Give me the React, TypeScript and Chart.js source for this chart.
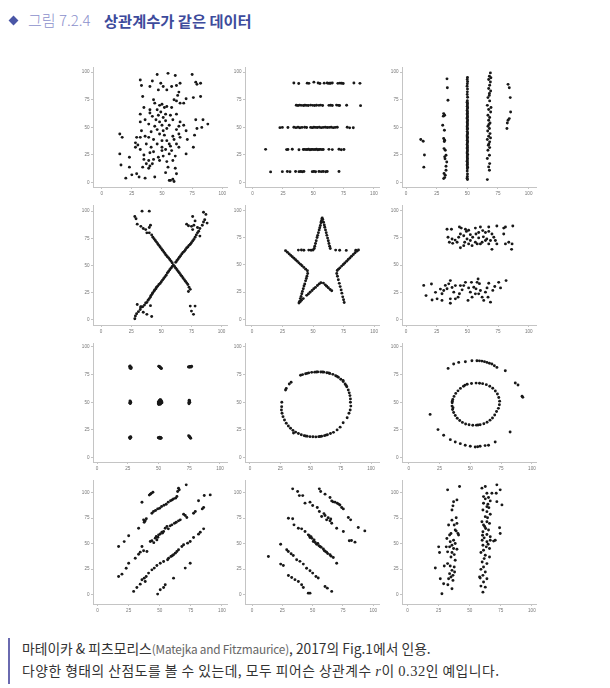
import React, { useEffect, useRef } from "react";
import { Chart, registerables } from "chart.js";
Chart.register(...registerables);

type P = [number, number];

const TICK_VALUES = [0, 25, 50, 75, 100];

const away: P[] = [
  [46,98],[55,99],[61,97],[75,98],[32,93],[42,92],[33,88],[40,87],[49,90],[51,87],[54,84],[58,87],[62,88],[65,90],[64,82],[63,79],[47,84],
  [78,91],[79,89],[82,90],[76,77],[82,78],[34,78],[60,75],[62,74],[70,76],[65,72],[68,72],[43,75],[44,72],[48,70],[50,71],[52,68],[35,68],
  [40,66],[54,69],[58,68],[46,66],[32,62],[40,63],[49,64],[53,62],[42,60],[47,61],[51,59],[57,61],[62,62],[36,57],[32,55],[45,57],[48,55],
  [53,56],[59,57],[65,55],[78,57],[84,57],[88,53],[68,52],[70,47],[64,51],[56,52],[50,52],[44,51],[39,53],[33,47],[41,46],[46,48],[51,47],
  [54,49],[62,48],[79,49],[83,50],[36,42],[39,41],[48,44],[52,43],[59,42],[64,44],[65,41],[77,43],[15,44],[17,41],[29,41],[32,41],[50,38],
  [54,38],[43,39],[60,39],[71,39],[28,36],[37,35],[46,35],[56,35],[62,35],[30,34],[41,32],[50,32],[57,33],[64,32],[76,32],[28,32],[32,30],
  [50,29],[53,30],[58,29],[43,28],[70,26],[15,26],[40,27],[56,26],[35,25],[23,23],[47,23],[51,24],[61,24],[35,21],[39,20],[43,21],[48,20],
  [54,19],[59,20],[16,16],[37,17],[40,15],[42,17],[55,14],[23,14],[34,14],[39,13],[61,13],[53,9],[62,8],[29,8],[25,7],[31,5],[44,5],[36,4],
  [20,4],[57,2],[59,3],[60,1],[56,2]
];

const hLines: P[] = [
  [34,90.2],[38,89.8],[45,90.1],[46.4,89.9],[50.5,91],[54,90.2],[55.5,89.8],[59,90.1],[61.5,90.3],[62.4,89.9],[63.5,90],[64.3,90],[65.7,90.2],
  [70.3,89.9],[72,90.1],[73.4,90],[74.7,89.8],[83.5,90.3],[88.5,89.9],
  [36,70.1],[37.4,69.9],[38.7,70.2],[40,70],[41.8,69.8],[43.1,70.1],[44.5,70],[45.9,69.9],[47.8,70.2],[49.5,70],[51.1,69.8],[52.7,70.1],
  [54.7,70],[56,70.2],[57.7,69.9],[62.9,70],[64.3,70.1],[65.7,69.8],[69.2,70.2],[70.6,70],[71.7,69.9],[77.5,70.1],[89,69.7],
  [22.5,49.8],[24.5,50],[29.1,49.9],[34,50.2],[35.7,49.8],[37.4,50.1],[39,49.7],[40.7,50],[42.9,50.2],[44.5,49.9],[47.8,50],[49.2,49.8],
  [50.5,50.1],[51.9,50],[53.3,49.9],[55,50.2],[56.6,49.8],[58.2,50],[59.9,50.1],[61.5,49.9],[63.2,50],[64.8,50.2],[66.5,49.8],[68.1,50],
  [69.8,50.1],[78,50.2],[80,49.6],[83,49.7],
  [10.7,30.1],[28,29.9],[29.1,30],[32.7,30.2],[38.2,29.8],[41.8,30],[42.9,30.1],[44,29.9],[45,30],[46.1,30.2],[47.3,29.8],[48.4,30],
  [49.5,30.1],[50.5,29.9],[51.6,30],[52.7,30.2],[53.8,29.8],[54.9,30],[56,30.1],[57.1,29.9],[58.2,30],[62.9,30.1],[65.7,29.9],[71.2,30.2],
  [73.1,29.8],[75.3,30],
  [14.8,9.7],[24.5,9.9],[28.6,10],[30.8,9.8],[35.4,10.1],[38.2,9.9],[39.6,10],[40.9,9.8],[42.3,10.1],[49.2,9.9],[50.5,10],[51.9,9.8],
  [54.7,10.1],[56.6,9.9],[58.2,10],[60.2,9.8],[61.5,10.1],[71.2,10]
];

const vLines: P[] = [
  [12,39],[14,37.5],[15,25],[14.5,14],
  [33.4,94],[33.7,86],[34.2,74.6],[30.7,62.5],[31.5,61],[30.4,60.2],[29.9,52],[31.3,47.4],[30.7,40],[31.5,38.4],[31.2,37.2],[31,30.8],
  [32,29.3],[32.6,24.8],[31.5,23.3],[31.8,21.5],[33.2,18.7],[32.6,14.8],[32.6,11.2],[31,8.2],[32,6.6],[31.5,4.5],[30.7,3.6],
  [50.1,95.2],[49.9,93.4],[50.2,91.5],[50,89.6],[49.8,87.3],[50.1,84.8],[50,82.2],[49.9,79.8],[50.2,77.3],[50,74.2],[49.8,72.9],[50.1,71.6],
  [50,70.4],[49.9,69.1],[50.2,67.9],[50,66.8],[49.8,65.3],[50.1,64.2],[50,62.9],[49.9,61.8],[50.1,60.4],[50,59.2],[49.8,58.1],[50.2,56.8],
  [50,55.4],[49.9,54.2],[50.1,53.1],[50,51.7],[49.8,50.5],[50.1,49.2],[50,48],[49.9,46.2],[50.2,44.9],[50,43.6],[49.8,42.3],[50.1,41.1],
  [50,39.8],[49.9,38.4],[50.2,37.1],[50,35.9],[49.8,34.6],[50.1,33.3],[50,32],[49.9,30.8],[50.1,29.5],[50,28.2],[49.8,26.9],[50.2,25.6],
  [50,24.3],[49.9,23.1],[50.1,21.8],[50,20.5],[49.8,19.3],[50.1,18],[50,16.6],[49.9,15.3],[50.2,14],[50,12.6],[49.9,10.4],[50.1,7.8],
  [50,5.6],[49.8,3.9],[50.1,2.8],
  [68.8,99.4],[68,96.4],[69.2,95],[67.4,93.4],[68.8,91.2],[68.2,88.2],[67.4,85.2],[69,83],[68,80.7],[67.9,79],[66.8,77],[68.2,74],[66.3,70],
  [69.3,68],[67.4,66.2],[69,64],[66.8,61],[68.2,59],[67.4,56.5],[68.5,54],[67.6,52.6],[66.8,51],[68,49],[66.6,46.8],[68.5,44.4],[67.4,42],
  [68.9,40.5],[66.3,39],[68.2,36.9],[67.6,35],[67.1,33.8],[68.2,31.7],[66.8,29.3],[68,24.8],[66.3,21.8],[68.2,17.2],[67.4,14.2],[68,11.2],
  [66.3,2.7],
  [83.2,89],[84.2,86],[85,77],[85.3,64],[84.2,58],[83.2,56.5],[82.6,54],[82.3,49]
];

const xShape: P[] = [
  [28,1],[28.5,3.5],[29.5,5.5],[31,7.5],[32.5,9.5],[33,11.5],[34.5,12],[36,13.5],[37,15.5],[38,16],[39,18],[40,19.5],[41,21],[41.5,22.5],
  [42.5,24],[43,25],[44,26.5],[44.5,27.5],[45.5,28.5],[46,30],[47,31],[48,32.5],[49,33.5],[50,35],[51,36.5],[52,38],[53,39.5],[54,41],
  [55,43],[56,44.5],[57,46],[58,47.5],[59,49],[60,50.5],[62,53],[63,54.5],[64,56],[65,57.5],[66,59],[67,60.5],[68,62],[69,63],[70,64.5],
  [71,66],[72,67],[73,68.5],[74,69.5],[75,71],[76,72.5],[77,74],[78,76],[79,78],[80,80],[81,81.5],[82,84],[84,87],[85,90],[86,92],
  [88,89],[87,97],[85,99],[76,95],[77,87],[80,85],[82,77],[76,83],[78,91],[75,86],[71,88],[72.5,86.5],
  [38,5],[42,3],[41,13],[30,14],[33,12],[35,7],
  [28,95],[29,93],[30,88],[34,100],[40,100],[33,86],[35,84],[37,83],[38,80],[40,85],[41,87],[40,80],[42,78],[43,76],[44,74.5],[45,73],
  [46,71.5],[47,70],[48,68.5],[49,67],[50,65.5],[51,64],[52,62.5],[53,61],[54,59.5],[55,58],[56,57],[57,55.5],[58,54],[59,52.5],[61,49],
  [62,47.5],[63,46],[64,44.5],[65,43],[66,41.5],[67,40],[68,38.5],[69,37],[70,35.5],[71,34],[72,32.5],[73,30],[72.5,26],[74,28],
  [74,12.6],[75,8],[78,12.6],[76.7,5]
];

const star: P[] = [
  [57.5,93],[57.2,92],[56.8,90],[56.5,88.5],[56,86],[55.5,84],[55,82],[54.4,79.5],[53.8,77],[53.3,75],[52.6,72],[52,69.5],[51.4,67],[51,65],
  [58,91.5],[58.6,89],[59.2,86.5],[59.6,84.5],[60.2,82],[60.8,79.5],[61.3,77],[61.9,74.5],[62.5,72],[63,69.5],[63.6,67],[64.1,65],
  [38,63.5],[40.5,63.6],[42.5,63.4],[46.5,63.5],[48.4,63.3],[50,63.6],[68.5,63.5],[71.8,63.4],[77.2,63.2],[85,63.3],
  [27.5,63],[29,61.5],[30.5,60],[31.8,58.6],[33,57.4],[34.4,56],[35.7,54.6],[37.1,53.2],[38.4,51.8],[39.8,50.4],[41,49.2],[42.5,47.6],
  [44,46],[45.4,44.6],
  [45.6,42],[45,39.5],[44.5,37.5],[43.9,35.3],[43.2,32.5],[42.6,30.5],[42,28],[41.3,25.6],[40.8,23.5],[40.2,21],[39.6,19],[39,16.5],[38.5,15],
  [39.5,16.2],[40.5,17.5],[42,19],[44.8,22],[46.2,23.3],[47.6,24.8],[49.2,26.5],[50.6,28],[52,29.3],[53.6,31],[55,32.5],[56.4,33.6],
  [58.5,33.2],[60,31.6],[61.2,30.3],[62.5,29],[64,27.4],[65.3,26.2],
  [75.5,15.5],[75,18],[74.3,20.6],[73.6,24],[73,27],[72.2,30],[71.5,33],[70.7,36.3],[70,39.5],[69.4,42],
  [69.8,44.8],[70.8,46],[72,47.2],[73.4,48.8],[74.8,50.3],[76,51.7],[77.5,53.3],[78.8,54.8],[80.2,56.3],[81.5,57.8],[83,59.4],[84.4,61],
  [85.8,62.4],[87.2,63.6]
];

const highLines: P[] = [
  [33.4,83],[37,83],[43.5,85],[45,84],[48.4,83],[51,82],[56.5,84],[60.6,85],[67.4,85],[74,86],[79.6,84],[81,85],[87,86],[34.2,75.6],
  [35.3,71],[38,70],[40,73],[42.9,75.6],[44.3,78.6],[47,77],[49.7,74],[52.4,72.6],[54.3,75.6],[57,78.6],[59.2,80],[62.5,81.7],[64.7,80],
  [67.4,81],[70,78.6],[71.5,75.6],[68.8,72.6],[64.7,72.6],[62,71],[58,69.5],[53.8,67.9],[51,69.5],[47,67.9],[44.3,66],[70,64.5],[74,69.5],
  [79.6,78.6],[81,69.5],[83.7,71],[86,64.5],[86.4,69.5],[37.5,74],[41.6,71],[59.2,75],[63,76],[65.8,74],[47.8,71],[56.5,71],[72.8,72.6],
  [52.4,78],[49.2,81],[60.6,69.5],[67.4,69.5],
  [14.4,31.4],[16.3,22],[20.7,32.6],[24,25],[25.3,19],[21.2,18],[28,28],[29.3,23.7],[30.7,26.7],[32,31.4],[34.8,32.8],[36.1,35.8],
  [37.5,29.4],[38.9,25.2],[40.2,31.2],[36.1,19],[36.1,15],[40.2,19],[42.4,20.6],[43.5,23.7],[45.7,27.3],[47,31.2],[48.4,34.2],[51,29.1],
  [52.4,25.2],[53.8,20.6],[50.5,17.6],[56.5,23.6],[57,28.2],[57.9,34.2],[58.7,37.3],[59.8,33],[60.6,26.7],[62,20.6],[63.3,17.6],[64.7,25.2],
  [66,29.1],[67.4,33.3],[66.8,20.6],[68.8,16],[70.7,26.8],[72.3,30.4],[75.5,34.2],[77,29.1],[81.5,35.8],[55.2,29.7],[59.2,23.6],[53.3,34.2],
  [44.3,31.2],[33.4,28.3],[29.3,17.6]
];

const dots: P[] = [
  [26.5,82.3],[27.2,81],[27.6,80.4],[26.9,82.8],[27.3,81.7],[26.7,80.9],[27.8,81.4],
  [50.2,82.6],[50.8,82],[51.5,81.3],[52,80.8],[51.2,81.9],[50.5,82.3],[51.8,81],[52.4,80.5],
  [74.3,81.8],[75,82.2],[75.7,82.4],[76.3,82],[76.9,82.5],[75.4,81.6],[76.6,81.8],
  [26.8,51.2],[27.2,50.5],[26.6,49.6],[27,48.8],[27.4,50.1],[26.9,49.2],
  [50,49.2],[50.6,48.5],[51.4,48.2],[52,49],[52.2,50.2],[51.8,51.3],[51,51.8],[50.4,50.8],[50.9,49.8],[51.6,50],[50.2,48],[52.5,51],
  [51.3,52.3],[49.8,50.3],[51,48.8],[52.8,49.6],[50.7,51.4],[51.9,52],[49.9,48.6],[51.4,49.4],
  [74.6,49.5],[75,50.6],[75.3,51.4],[74.8,48.7],[75.5,49.8],[74.9,51.8],
  [26.4,18.2],[27,17.6],[27.5,18.4],[26.8,17.3],[27.2,18.8],
  [49.8,18],[50.5,17.5],[51.2,17.8],[51.8,18.2],[52.3,17.6],[50.9,18.4],[51.6,17.3],[50.2,17.9],
  [74.5,19.8],[75,19],[75.6,18.2],[76.2,17.4],[75.3,18.8],[75.9,17.8]
];

const circle: P[] = [
  [83,50],[83.3,46.5],[83,53],[82.6,56],[82,58.5],[81.2,61],[80,64],[78.6,66.5],[77,68.7],[75,70.8],[73,72.6],[70.8,74],[68.5,75.2],[66,76],
  [63.5,76.7],[61,77.2],[58.5,77.3],[56,77.4],[53.5,77.2],[51,77],[48.5,76.5],[46,75.8],[43.5,75],[41.8,74.4],[34,68],[32.5,66.5],
  [30,62.5],[29.4,61],[26.3,50],[26.2,46],[26,43],[26.5,40],[27.3,37],[28.5,34],[30,31],[31.7,28.5],[33.5,26.5],[35.5,24.6],[37.7,23],
  [40,21.7],[42.4,20.6],[44.8,19.8],[47.2,19.3],[49.6,18.9],[52,18.8],[54.4,18.7],[56.8,18.9],[59.2,19.3],[61.6,19.8],[64,20.6],
  [66.5,21.8],[69,22.8],[72,25],[74.5,27.5],[77,31.5],[80.3,36],[81.8,40],[82.8,43],[36,22.2],[45.8,19.5],[57.9,19],[62.8,20.3],
  [76.9,69.6],[79.4,65.2],[71.9,73.4],[65,76.4],[55,77.3],[47.3,76.1],[60,77.3]
];

const bullseye: P[] = [
  [17.4,39],[23.8,25.3],[28.4,20.2],[33.8,16.2],[37.8,14.1],[41.9,12.6],[45.9,11.1],[50,10.2],[54,9.6],[56,9.8],[58,10.2],[62,10.8],[64.8,11.1],
  [70.2,14.1],[82.3,23.1],[32,80.6],[36.5,84.5],[40.6,86],[46,86.6],[51.3,87.5],[55.4,87.5],[57.4,87.4],[59.4,87.2],[61.5,86.7],[63.5,86],
  [65.5,85.3],[67.5,84.5],[69.5,83],[71.6,81.5],[78.4,78.5],[86.5,67.4],[88.7,65.6],[92,55.4],[92.6,54.4],
  [54.7,67.3],[51,67],[47.5,66.2],[44.5,64.5],[42,62.5],[40,60.3],[38.2,58],[36.8,55.3],[35.8,52.5],[35.3,49.5],[35.2,46.5],[35.6,43.5],
  [36.5,40.7],[37.8,38],[39.4,35.6],[41.4,33.5],[43.6,31.8],[46.2,30.4],[49,29.6],[52,29.2],[55,29.3],[58,29.7],[61,30.6],[63.6,31.9],
  [66,33.8],[68,35.8],[69.8,38.5],[71.3,41.6],[72.8,44.5],[73.6,47.8],[73.8,51],[73.1,54.3],[72,57.5],[70.3,60.2],[68.2,62.6],[65.8,64.5],
  [63,65.9],[60,66.8],[57.5,67.2],[36,45],[35.4,51],[45.8,65.5],[56.3,29.4]
];

const slantUp: P[] = [
  [35.7,90.5],[42.4,98.4],[43.2,99.2],[44.5,100.3],[41.6,97.5],
  [16.9,47.2],[21.4,52],[25,57.7],[33,65.1],[37,73.3],[38.3,72.3],[39.2,74.3],[37.5,71],[43.7,79.8],[45,81.4],[48.3,84],[49.9,84.7],
  [51.5,86.3],[55.2,88.6],[56.8,90.6],[58.7,91.9],[61.1,93.8],[62.7,94.5],[63.8,96.1],[64.4,101],[65.7,102.6],[65.1,104.2],[71.3,107.5],
  [46.6,82.5],[53.4,87.5],[60,92.8],
  [16.9,17.9],[19.6,20.2],[23,26],[25,30.9],[30.3,35.8],[33,39.7],[34.3,41.7],[37,43],[39.7,42.3],[35.7,47.2],[42.4,52.1],[43.7,52.8],
  [47.7,53.7],[46.4,55.4],[47.2,57],[49.1,58.6],[51.7,61.2],[53.1,61.9],[54.4,65.1],[55.8,66.8],[58.4,67.4],[59.8,68.4],[61.9,70],
  [63.3,71],[65.1,72.3],[66.5,73.3],[69.2,78.8],[70.5,77.5],[71.8,75.6],[77.2,79.8],[78.6,81.4],[84.2,84],[85.3,85.3],[81.2,91.9],
  [85.8,97.1],[90.6,97.7],[48.5,56.2],[50.4,59.4],[52.3,60.5],[45.2,51],[56.9,64.5],
  [29,3.3],[31.6,7.2],[34.3,10.4],[38.3,13],[35.7,14.7],[37.5,16.3],[39.1,17.9],[41,21.2],[43.7,24.4],[45.6,26.1],[47.7,28.7],[50.4,30.9],
  [53.1,32.6],[56.3,34.2],[57.1,35.8],[59,37.5],[61.1,39.1],[62.5,40.7],[65.1,44],[67.8,47.2],[69.2,48.9],[72.4,50.5],[74.5,52.1],
  [77.2,56],[81.2,59.3],[82.6,61.2],[85.3,64.5],[60,38.2],[63.8,42.3],
  [48.3,0.7],[50.4,4.9],[53.1,7.2],[54.4,9.8],[61.1,16.3],[70.5,26.1],[74.5,30.9]
];

const slantDown: P[] = [
  [55.5,103.6],[56.6,101],[60.2,98.4],[64.3,95.1],[65.7,91.8],[68.4,90.6],[70.3,89.5],[72.5,87.8],[73.9,85.3],[75.3,84],[66.8,90.9],
  [71.4,88.7],[79.4,75.6],[81.3,73.3],[87.6,65.8],[93,62.5],
  [33.5,103.6],[37.6,101],[39,97],[41.8,97],[43.7,89.6],[47.8,90.6],[50,87.3],[53.8,85.3],[55.5,81.4],[57.4,76.5],[60.2,77.5],[61.5,73.3],
  [64.3,72.3],[65.7,70],[69.8,65.1],[75.3,61.9],[80.2,52.8],[82,53.1],[84.9,51.5],[62.8,75.3],[64.9,74.1],[59.3,79.4],
  [30,74.9],[33.5,74.3],[34.6,68.4],[38.2,65.1],[40.9,64.5],[43.7,61.9],[46.4,58.6],[47.2,57.8],[47.8,56],[48.6,56.9],[49.4,55.2],
  [50.5,52.1],[51.2,53.6],[52.1,51.2],[53.3,49.5],[54.2,50.3],[55.1,48.1],[56,47.2],[57,46.5],[58.8,44.9],[59.5,43.2],[60.3,42.6],
  [61.5,41.7],[62.4,40.3],[64.3,39.1],[65.2,37.8],[67,36.5],[69.8,30.9],
  [23.6,49.5],[28.6,44],[29.9,42.3],[32.2,40.1],[34,38.4],[36.8,34.2],[39.5,32.7],[42.3,30],[45,26],[47.8,23.5],[50,21.2],[52.7,17.9],
  [54.6,16.4],[60.2,8.1],[62.1,6.5],[65.7,3.3],[23.6,30],[25.8,28.7],[13.5,37.5],
  [30,18.9],[32.7,16.9],[35.4,14.8],[38.2,13],[40.9,9.8],[42.3,7.2],[46.4,1.6],[47.8,1.6]
];

const wideLines: P[] = [
  [32.2,102.6],[41.8,105.9],[37,91],[36.5,87],[35.7,82.9],[39.7,92.8],[39.1,75.4],[35.7,73],[39.7,69.8],[38.3,63.3],[34.9,60],[39.1,62.3],
  [40.5,60],[37,53.4],[34.3,51.8],[38.3,50.2],[35.7,48.5],[33.8,46.9],[37,45.2],[39.7,44.6],[35.7,41.3],[37.5,39.3],[34.9,37],[38.3,33.8],
  [32.2,30.5],[34.3,28.2],[37.5,27.2],[35.7,23.9],[37.8,22.3],[33.8,20.7],[36.5,19],[34.9,17.4],[33,15.7],[36.5,14.1],[32.4,9.8],[35.7,5.9],
  [27.6,1],[29,10.8],[26.3,15.7],[29.5,28.2],[25,46.9],[25.7,41.3],[22.3,26.2],[31.1,46.9],[32.2,42],[33.8,58.4],[37.5,68.2],[31.6,55.1],
  [41,58.4],[33,68.2],
  [59.8,104.3],[62.5,105.9],[63.8,99.3],[61.1,96],[62.5,93.8],[65.1,95.1],[66.5,91.8],[61.1,89.5],[63.8,86.2],[65.4,85.2],[60.6,82.9],
  [63.8,81.3],[66.5,78.7],[62.5,76.4],[64.3,75.4],[59.8,71.5],[63.8,71.5],[65.9,69.8],[61.1,68.2],[62.8,64.9],[65.1,63.3],[60.6,61.6],
  [63.8,59],[66.5,56.7],[61.6,55.7],[60,53.4],[63.8,51.8],[66.5,53.4],[69.2,52.5],[60.6,48.5],[63.3,46.9],[65.9,45.2],[61.1,43.6],[59,41.3],
  [62.5,38.7],[65.9,37],[61.6,35.4],[60,32.1],[63.8,30.5],[61.1,27.2],[59,24.9],[62.5,22.3],[60.6,19],[58.4,16.4],[63.8,15.7],[61.1,12.5],
  [59,8.5],[62.5,7.5],[60.6,2.6],[57.9,17.4],[64.6,88.5],[62,66.8],[64.8,49.5],[60.3,58.2],
  [71.8,107.5],[74.5,102.6],[71.3,99.3],[75.9,87.9],[71.8,91.1],[74,65.6],[74.5,60],[70.5,53.4],[67.8,99.3]
];

// axis ranges per panel
const xRanges: P[] = [
  [-7.2, 103.9], [-6.3, 104.2], [-3.3, 106],
  [-6.7, 104.5], [-5.7, 104], [-3.3, 105.9],
  [-3.3, 105.7], [-4.1, 106.6], [-5.4, 103.3],
  [-3.7, 104.1], [-5.8, 104.7], [-4.5, 103.3],
];
const yRanges: P[] = [
  [-4, 104.5], [-4, 104.5], [-4, 104.5],
  [-4.8, 105.4], [-5.2, 104.6], [-5, 105],
  [-4, 103.3], [-4, 103.3], [-4, 103.3],
  [-9, 112], [-9, 112], [-9, 112],
];

const panelData: P[][] = [away, hLines, vLines, xShape, star, highLines, dots, circle, bullseye, slantUp, slantDown, wideLines];

const COL_LEFT = [93, 245, 402];
const ROW_TOP = [67, 205, 343, 480];
const ROW_H = [120, 120, 119, 124];
const PLOT_W = 134;
const YAXIS_W = 14;
const XAXIS_H = 12;
const PAD_T = 4;
const PAD_R = 4;

function Panel({ idx }: { idx: number }) {
  const ref = useRef<HTMLCanvasElement>(null);
  const col = idx % 3;
  const row = Math.floor(idx / 3);
  const w = PLOT_W + YAXIS_W + PAD_R;
  const h = ROW_H[row] + XAXIS_H + PAD_T;
  useEffect(() => {
    const tickFont = { size: 4.6, family: "'Liberation Sans', Arial, sans-serif" };
    const axisCommon = {
      type: "linear" as const,
      afterBuildTicks: (s: any) => {
        s.ticks = TICK_VALUES.map((v) => ({ value: v }));
      },
      grid: { display: true, drawOnChartArea: false, drawTicks: true, tickLength: 2, color: "#c4c4c4" },
      border: { display: true, color: "#c4c4c4", width: 1 },
      ticks: { font: tickFont, color: "#777", padding: 1.5, autoSkip: false, maxRotation: 0 },
    };
    const chart = new Chart(ref.current!, {
      type: "scatter",
      data: {
        datasets: [
          {
            data: panelData[idx].map(([x, y]) => ({ x, y })),
            pointRadius: 1.45,
            pointBackgroundColor: "#181818",
            pointBorderWidth: 0,
            pointHoverRadius: 1.45,
          },
        ],
      },
      options: {
        animation: false,
        responsive: false,
        maintainAspectRatio: false,
        events: [],
        layout: { padding: { top: PAD_T, right: PAD_R, left: 0, bottom: 0 } },
        plugins: { legend: { display: false }, tooltip: { enabled: false } },
        scales: {
          x: {
            ...axisCommon,
            min: xRanges[idx][0],
            max: xRanges[idx][1],
            afterFit: (s: any) => {
              s.height = XAXIS_H;
            },
          },
          y: {
            ...axisCommon,
            min: yRanges[idx][0],
            max: yRanges[idx][1],
            afterFit: (s: any) => {
              s.width = YAXIS_W;
            },
          },
        },
      } as any,
    });
    return () => chart.destroy();
  }, [idx]);
  return (
    <canvas
      ref={ref}
      width={w}
      height={h}
      style={{
        position: "absolute",
        left: COL_LEFT[col] - YAXIS_W,
        top: ROW_TOP[row] - PAD_T,
        width: w,
        height: h,
      }}
    />
  );
}

const KR = "'Noto Sans CJK KR', 'Noto Sans', sans-serif";

export default function App() {
  return (
    <div style={{ position: "absolute", left: 0, top: 0, width: 610, height: 688, background: "#fff", overflow: "hidden" }}>
      <div
        style={{
          position: "absolute",
          left: 9.5,
          top: 16.5,
          width: 7,
          height: 7,
          background: "#4a56a6",
          transform: "rotate(45deg)",
        }}
      />
      <div style={{ position: "absolute", left: 28, top: 10, fontFamily: KR, fontSize: 15, lineHeight: "20px", color: "#8c90cc", whiteSpace: "nowrap", fontWeight: 300 }}>
        그림 7.2.4
      </div>
      <div style={{ position: "absolute", left: 104, top: 10, fontFamily: KR, fontSize: 15.3, lineHeight: "20px", color: "#3d4b9c", whiteSpace: "nowrap", fontWeight: 700 }}>
        상관계수가 같은 데이터
      </div>
      {panelData.map((_, i) => (
        <Panel key={i} idx={i} />
      ))}
      <div style={{ position: "absolute", left: 8, top: 638, width: 2, height: 46, background: "#6a6ab0" }} />
      <div style={{ position: "absolute", left: 22, top: 638, fontFamily: KR, fontSize: 13.8, lineHeight: "20px", color: "#333", whiteSpace: "nowrap" }}>
        마테이카 &amp; 피츠모리스<span style={{ fontSize: 11.8, color: "#666", letterSpacing: -0.2 }}>(Matejka and Fitzmaurice)</span>, 2017의 Fig.1에서 인용.
      </div>
      <div style={{ position: "absolute", left: 22, top: 660, fontFamily: KR, fontSize: 13.8, lineHeight: "20px", color: "#333", whiteSpace: "nowrap", letterSpacing: 0.5 }}>
        다양한 형태의 산점도를 볼 수 있는데, 모두 피어슨 상관계수{" "}
        <span style={{ fontFamily: "'Liberation Serif', serif", fontStyle: "italic", fontSize: 14.5 }}>r</span>이{" "}
        <span style={{ fontFamily: "'Liberation Serif', serif", fontSize: 14.5 }}>0.32</span>인 예입니다.
      </div>
    </div>
  );
}
